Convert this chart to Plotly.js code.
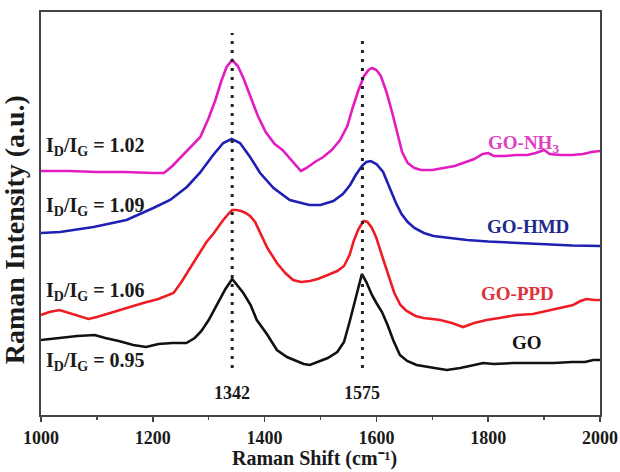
<!DOCTYPE html>
<html>
<head>
<meta charset="utf-8">
<script src="https://cdn.plot.ly/plotly-3.0.1.min.js"></script>
<style>
  html, body { margin: 0; padding: 0; background: #ffffff; }
  #chart { width: 620px; height: 472px; }
</style>
</head>
<body>
<div id="chart"></div>
<script>
// ---- Data (Raman shift in cm^-1, intensity in a.u., stacked/offset) ----
const nh3Shift = [1000,1050,1100,1150,1200,1220,1235,1250,1270,1285,1300,1312,1322,1332,1342,1352,1362,1374,1388,1402,1418,1432,1445,1457,1465,1475,1490,1505,1520,1535,1548,1558,1568,1578,1586,1592,1600,1608,1618,1628,1638,1646,1656,1668,1680,1700,1720,1740,1760,1775,1790,1800,1810,1830,1850,1870,1885,1900,1910,1930,1950,1970,1985,2000];
const nh3Int   = [244,244,243,243,242,242,249,258,269,278,297,315,333,348,355,349,337,319,299,283,271,265,257,249,244,247,253,258,265,275,289,308,325,339,345,347,345,339,323,303,281,263,252,247,245,245,247,249,253,256,261,262,259,259,260,260,262,265,261,260,260,261,263,264];

const hmdShift = [1000,1034,1094,1153,1201,1231,1261,1284,1308,1326,1341,1356,1374,1392,1416,1445,1480,1500,1523,1540,1553,1563,1574,1582,1590,1600,1612,1624,1635,1645,1656,1668,1685,1702,1730,1762,1800,1850,1900,1950,2000];
const hmdInt   = [182,183,188,195,207,215,228,242,260,272,276,272,258,242,227,215,210,210,214,221,230,240,249,253,254,251,243,227,212,201,193,187,182,179,177,175,173.5,172,171,169.5,169];

const ppdShift = [1000,1015,1033,1050,1070,1085,1100,1123,1150,1183,1210,1237,1250,1261,1273,1284,1296,1308,1318,1326,1335,1342,1350,1358,1366,1374,1383,1392,1405,1422,1437,1451,1465,1481,1495,1513,1530,1542,1552,1560,1568,1577,1584,1592,1600,1612,1622,1632,1643,1654,1670,1684,1700,1714,1735,1755,1775,1797,1820,1851,1880,1911,1930,1952,1965,1976,1990,2000];
const ppdInt   = [100,103,105,102,98,96,98,102,106,112,116,122,132,142,152,162,173,181,189,195,201,205,205,204,202,199,193,183,167,152,142,135,133,134,136,140,144,149,160,175,186,194,193,187,177,156,138,122,110,104,99,97,96,95,92,88,92,95,97,100,101,105,107,110,114,116,115,115];

const goShift  = [1000,1034,1065,1096,1115,1139,1165,1188,1210,1235,1260,1275,1287,1300,1314,1330,1342,1352,1362,1375,1386,1404,1422,1440,1452,1470,1481,1495,1513,1530,1542,1552,1560,1567,1574,1582,1592,1600,1610,1620,1630,1642,1655,1672,1690,1704,1726,1750,1775,1791,1810,1846,1881,1917,1950,1973,1988,2000];
const goInt    = [75,77,79,80,77,74,70,68,71,72,72,77,84,95,109,126,136,129,122,110,95,81,65,58,55,51,50,53,57,63,73,93,110,127,141,133,120,112,103,90,75,60,54,50,48,47,45,47,50,52,51,52,52,52,53,53,55,55];

const sampleNames  = ['GO-NH<sub>3</sub>', 'GO-HMD', 'GO-PPD', 'GO'];
const ratioValues  = ['1.02', '1.09', '1.06', '0.95'];
const peakPositions = [1342, 1575];          // D and G band markers
const peakLineTop   = [382, 375];            // top of the dotted marker lines (a.u.)
const peakLineBottom = 47;                   // bottom of the dotted marker lines (a.u.)
const xTicks = [1000, 1200, 1400, 1600, 1800, 2000];

// ---- Styling ----
const colors = ['#e21cc0', '#1f1fb4', '#ee1c24', '#111111'];
const labelColors = ['#e040c4', '#1e2a8e', '#e0303a', '#111111'];
const serif = 'Liberation Serif, Times New Roman, serif';

const series = [
  {x: nh3Shift, y: nh3Int},
  {x: hmdShift, y: hmdInt},
  {x: ppdShift, y: ppdInt},
  {x: goShift,  y: goInt}
];

const traces = series.map((s, i) => ({
  type: 'scatter', mode: 'lines',
  x: s.x, y: s.y,
  line: {color: colors[i], width: 2.6},
  hoverinfo: 'skip', showlegend: false
}));

// label placement (data coords)
const ratioY = [269, 209, 124, 54];
const nameX  = [1864, 1871, 1853, 1869];
const nameY  = [271, 189, 122, 73];

const annotations = [];
ratioValues.forEach((v, i) => {
  annotations.push({
    xref: 'x', yref: 'y', x: 1005, y: ratioY[i],
    xanchor: 'left', yanchor: 'middle', showarrow: false,
    text: 'I<sub>D</sub>/I<sub>G</sub> = ' + v,
    font: {family: serif, size: 20, weight: 'bold', color: '#1a1a1a'}
  });
});
sampleNames.forEach((n, i) => {
  annotations.push({
    xref: 'x', yref: 'y', x: nameX[i], y: nameY[i],
    xanchor: 'center', yanchor: 'middle', showarrow: false,
    text: n,
    font: {family: serif, size: 19, weight: 'bold', color: labelColors[i]}
  });
});
peakPositions.forEach(p => {
  annotations.push({
    xref: 'x', yref: 'y', x: p, y: 22,
    xanchor: 'center', yanchor: 'middle', showarrow: false,
    text: String(p),
    font: {family: serif, size: 18, weight: 'bold', color: '#1a1a1a'}
  });
});
// axis titles
annotations.push({
  xref: 'paper', yref: 'paper', x: 0.49, y: -0.141,
  xanchor: 'center', yanchor: 'bottom', showarrow: false,
  text: 'Raman Shift (cm\u207B\u00B9)',
  font: {family: serif, size: 20, weight: 'bold', color: '#1a1a1a'}
});
annotations.push({
  xref: 'paper', yref: 'paper', x: -0.048, y: 0.459,
  xanchor: 'center', yanchor: 'middle', showarrow: false, textangle: -90,
  text: 'Raman Intensity (a.u.)',
  font: {family: serif, size: 28, weight: 'bold', color: '#1a1a1a'}
});

const shapes = peakPositions.map((p, i) => ({
  type: 'line', xref: 'x', yref: 'y',
  x0: p, x1: p, y0: peakLineBottom, y1: peakLineTop[i],
  line: {color: '#222222', width: 3, dash: '3px,6px'}
}));

const layout = {
  width: 620, height: 472,
  margin: {l: 41, r: 20, t: 12, b: 57},
  paper_bgcolor: '#ffffff', plot_bgcolor: '#ffffff',
  font: {family: serif, size: 18, weight: 'bold', color: '#1a1a1a'},
  showlegend: false,
  xaxis: {
    range: [1000, 2000],
    tickmode: 'array', tickvals: xTicks, ticktext: xTicks.map(String),
    ticks: 'outside', ticklen: 5, tickwidth: 1.5, tickcolor: '#444',
    minor: {dtick: 100, tick0: 1000, ticks: 'outside', ticklen: 3, tickwidth: 1.5, tickcolor: '#444', showgrid: false},
    tickfont: {family: serif, size: 18, weight: 'bold', color: '#1a1a1a'},
    showline: true, mirror: true, linecolor: '#444', linewidth: 2,
    showgrid: false, zeroline: false, fixedrange: true
  },
  yaxis: {
    range: [0, 403],
    showticklabels: false, ticks: '',
    showline: true, mirror: true, linecolor: '#444', linewidth: 2,
    showgrid: false, zeroline: false, fixedrange: true
  },
  shapes: shapes,
  annotations: annotations
};

Plotly.newPlot('chart', traces, layout, {staticPlot: true, displayModeBar: false});
</script>
</body>
</html>
